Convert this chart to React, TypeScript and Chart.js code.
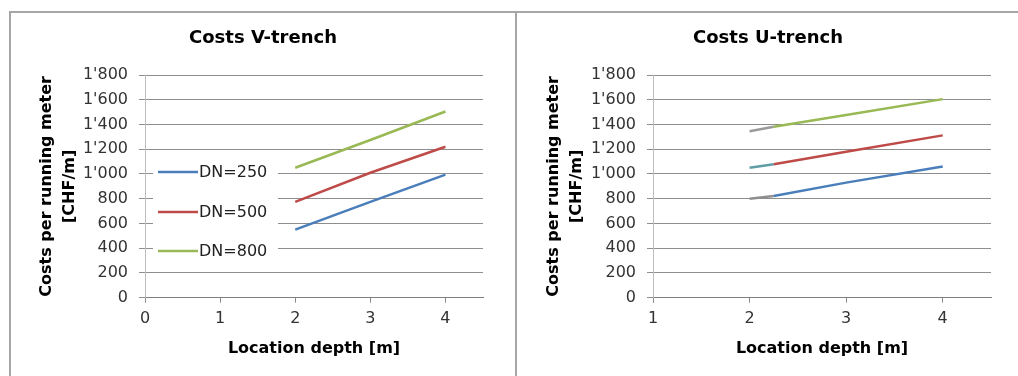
import React, { useEffect, useRef } from "react";
import { Chart, registerables } from "chart.js";

Chart.register(...registerables);

// ---------- data ----------
const seriesLabels = ["DN=250", "DN=500", "DN=800"];

const depthV = [2, 3, 4];
const vDN250 = [550, 775, 995];
const vDN500 = [775, 1010, 1220];
const vDN800 = [1050, 1275, 1505];

const depthU = [2, 2.25, 3, 4];
const uDN250 = [800, 822, 930, 1060];
const uDN500 = [1050, 1078, 1180, 1312];
const uDN800 = [1345, 1382, 1477, 1605];

const yTicks = [0, 200, 400, 600, 800, 1000, 1200, 1400, 1600, 1800];
const xTicksV = [0, 1, 2, 3, 4];
const xTicksU = [1, 2, 3, 4];

// ---------- styles ----------
const FONT = "'DejaVu Sans', 'Liberation Sans', sans-serif";
const seriesColors = ["#4a7ebb", "#be4b48", "#98b954"];
const firstSegColorsU = ["#8f8f8f", "#5f9ea6", "#9a9a9a"];

Chart.defaults.font.family = FONT;

const fmt = (v: number) => {
  const s = String(Math.round(v));
  return s.replace(/\B(?=(\d{3})+(?!\d))/g, "'");
};

const legendPlugin = {
  id: "insideLegend",
  beforeDatasetsDraw(chart: any) {
    const { ctx, chartArea } = chart;
    const L = chartArea.left;
    const T = chartArea.top;
    ctx.save();
    ctx.fillStyle = "#ffffff";
    ctx.fillRect(L + 8, T + 80, 125, 115);
    const rows = [97, 137, 176];
    chart.data.datasets.forEach((ds: any, i: number) => {
      const y = T + rows[i];
      ctx.strokeStyle = ds.borderColor;
      ctx.lineWidth = 2.5;
      ctx.beginPath();
      ctx.moveTo(L + 13, y);
      ctx.lineTo(L + 53, y);
      ctx.stroke();
      ctx.fillStyle = "#222";
      ctx.font = `16px ${FONT}`;
      ctx.textBaseline = "middle";
      ctx.textAlign = "left";
      ctx.fillText(ds.label, L + 54, y + 1);
    });
    ctx.restore();
  },
};

function makeConfig(
  title: string,
  xs: number[],
  series: number[][],
  xTicks: number[],
  xmin: number,
  yWidth: number,
  padRight: number,
  withLegend: boolean,
  firstSeg: string[] | null
): any {
  return {
    type: "line",
    data: {
      datasets: series.map((vals, i) => {
        const ds: any = {
          label: seriesLabels[i],
          data: xs.map((x, j) => ({ x, y: vals[j] })),
          borderColor: seriesColors[i],
          backgroundColor: seriesColors[i],
          borderWidth: 2.5,
          pointRadius: 0,
          tension: 0,
          fill: false,
          yAxisID: "y",
        };
        if (firstSeg) {
          const c = firstSeg[i];
          ds.segment = {
            borderColor: (ctx: any) => (ctx.p0DataIndex === 0 ? c : undefined),
          };
        }
        return ds;
      }),
    },
    options: {
      responsive: false,
      animation: false,
      events: [],
      layout: { padding: { left: 0, right: 0, top: 0, bottom: 0 } },
      plugins: {
        legend: { display: false },
        tooltip: { enabled: false },
        title: {
          display: true,
          text: title,
          color: "#000",
          font: { size: 18, weight: "bold", family: FONT, lineHeight: 1.2 },
          padding: { top: 14.2, bottom: 26.2 },
        },
      },
      scales: {
        x: {
          type: "linear",
          min: xmin,
          max: 4.5,
          afterFit: (s: any) => {
            s.height = 78.3;
          },
          afterBuildTicks: (s: any) => {
            s.ticks = xTicks.map((v) => ({ value: v }));
          },
          ticks: {
            stepSize: 1,
            includeBounds: false,
            color: "#333",
            font: { size: 16, family: FONT },
            padding: 7,
            maxRotation: 0,
          },
          grid: {
            display: true,
            drawOnChartArea: false,
            drawTicks: true,
            tickLength: 5,
            color: "#8a8a8a",
          },
          border: { display: true, color: "#7f7f7f", width: 1 },
          title: {
            display: true,
            text: "Location depth [m]",
            color: "#000",
            font: { size: 16, weight: "bold", family: FONT, lineHeight: 1.2 },
            padding: { top: 0, bottom: 18 },
          },
        },
        y: {
          type: "linear",
          position: "left",
          min: 0,
          max: 1800,
          afterFit: (s: any) => {
            s.width = yWidth;
          },
          afterBuildTicks: (s: any) => {
            s.ticks = yTicks.map((v) => ({ value: v }));
          },
          ticks: {
            stepSize: 200,
            color: "#333",
            font: { size: 16, family: FONT },
            padding: 11,
            callback: (v: any) => fmt(Number(v)),
          },
          grid: {
            display: true,
            drawOnChartArea: true,
            drawTicks: true,
            tickLength: 6,
            color: "#8e8e8e",
            lineWidth: 1,
          },
          border: { display: true, color: "#bdbdbd", width: 1 },
          title: {
            display: true,
            text: ["Costs per running meter", "[CHF/m]"],
            color: "#000",
            font: { size: 16, weight: "bold", family: FONT, lineHeight: 1.4 },
            padding: { top: 25, bottom: 0 },
          },
        },
        // empty right-hand spacer so the title stays centred on the whole panel
        spacer: {
          type: "linear",
          position: "right",
          display: true,
          min: 0,
          max: 1,
          afterFit: (s: any) => {
            s.width = padRight;
          },
          ticks: { display: false },
          grid: { display: false, drawOnChartArea: false, drawTicks: false },
          border: { display: false },
          title: { display: false },
        },
      },
    },
    plugins: withLegend ? [legendPlugin] : [],
  };
}

function ChartCanvas(props: { config: () => any; width: number; height: number; left: number; top: number }) {
  const ref = useRef<HTMLCanvasElement | null>(null);
  useEffect(() => {
    if (!ref.current) return;
    const chart = new Chart(ref.current, props.config());
    return () => chart.destroy();
  }, []);
  return (
    <canvas
      ref={ref}
      width={props.width}
      height={props.height}
      style={{
        position: "absolute",
        left: props.left,
        top: props.top,
        width: props.width,
        height: props.height,
      }}
    />
  );
}

export default function App() {
  return (
    <div
      style={{
        position: "absolute",
        left: 0,
        top: 0,
        width: 1018,
        height: 376,
        background: "#fff",
        overflow: "hidden",
      }}
    >
      {/* frame */}
      <div style={{ position: "absolute", left: 9, top: 11, width: 1020, height: 2, background: "#a6a6a6" }} />
      <div style={{ position: "absolute", left: 9, top: 11, width: 2, height: 380, background: "#a6a6a6" }} />
      <div style={{ position: "absolute", left: 515, top: 11, width: 2, height: 380, background: "#a6a6a6" }} />
      <ChartCanvas
        left={11}
        top={13}
        width={504}
        height={363}
        config={() =>
          makeConfig("Costs V-trench", depthV, [vDN250, vDN500, vDN800], xTicksV, 0, 134, 32, true, null)
        }
      />
      <ChartCanvas
        left={518}
        top={13}
        width={500}
        height={363}
        config={() =>
          makeConfig("Costs U-trench", depthU, [uDN250, uDN500, uDN800], xTicksU, 1, 135, 27, false, firstSegColorsU)
        }
      />
    </div>
  );
}
